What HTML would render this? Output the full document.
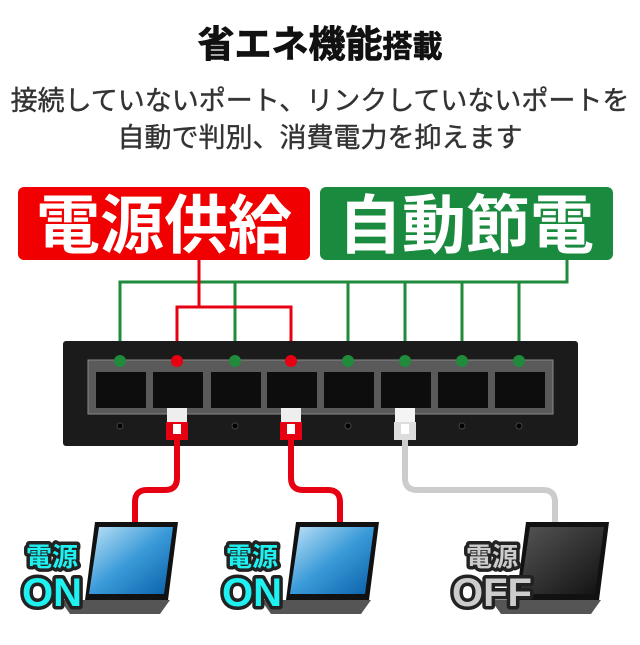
<!DOCTYPE html>
<html><head><meta charset="utf-8"><style>
body{margin:0;background:#fff}
svg text{font-family:"Liberation Sans","Noto Sans CJK JP",sans-serif;font-weight:bold}
</style></head><body>
<svg width="640" height="640" viewBox="0 0 640 640" xmlns="http://www.w3.org/2000/svg">
<defs>
<linearGradient id="scr" x1="0" y1="0" x2="1" y2="1"><stop offset="0" stop-color="#bfe3f7"/><stop offset="0.5" stop-color="#3a9ad8"/><stop offset="1" stop-color="#0a5fa8"/></linearGradient>
<linearGradient id="scr2" x1="0" y1="0" x2="1" y2="1"><stop offset="0" stop-color="#555"/><stop offset="1" stop-color="#111"/></linearGradient>
</defs>
<text x="320" y="57" font-size="37" text-anchor="middle" fill="#111" stroke="#111" stroke-width="0.8">省エネ機能<tspan font-size="30">搭載</tspan></text>
<text x="320" y="110" font-size="27" text-anchor="middle" fill="#333" stroke="#333" stroke-width="0.4" style="font-weight:normal">接続していないポート、リンクしていないポートを</text>
<text x="320" y="147" font-size="27" text-anchor="middle" fill="#333" stroke="#333" stroke-width="0.4" style="font-weight:normal">自動で判別、消費電力を抑えます</text>

<rect x="18" y="187" width="292" height="73" rx="6" fill="#f00000"/>
<text x="164" y="248" font-size="64" text-anchor="middle" fill="#fff">電源供給</text>
<rect x="320" y="187" width="293" height="73" rx="6" fill="#1a8a3e"/>
<text x="466" y="248" font-size="64" text-anchor="middle" fill="#fff">自動節電</text>

<g stroke="#1f8b3b" stroke-width="3" fill="none">
<path d="M567 260V282H120V360"/>
<path d="M235 282V360M348 282V360M405 282V360M462 282V360M519 282V360"/>
</g>
<g stroke="#e60012" stroke-width="3" fill="none">
<path d="M199 260V307M177 361V307H291V361"/>
</g>

<rect x="63" y="341" width="515" height="105" rx="3" fill="#1b1b1b"/>
<rect x="88" y="360" width="465" height="54" fill="#5a5a5a" stroke="#888"/>
<g fill="#0d0d0d">
<rect x="96" y="372" width="50" height="36"/><rect x="153" y="372" width="50" height="36"/>
<rect x="211" y="372" width="50" height="36"/><rect x="267" y="372" width="50" height="36"/>
<rect x="324" y="372" width="50" height="36"/><rect x="381" y="372" width="50" height="36"/>
<rect x="438" y="372" width="50" height="36"/><rect x="495" y="372" width="50" height="36"/>
</g>
<g fill="#000" stroke="#444"><circle cx="120" cy="426" r="3"/><circle cx="235" cy="426" r="3"/><circle cx="348" cy="426" r="3"/><circle cx="462" cy="426" r="3"/><circle cx="519" cy="426" r="3"/></g>

<g fill="#1f8b3b"><circle cx="120" cy="361" r="6"/><circle cx="235" cy="361" r="6"/><circle cx="348" cy="361" r="6"/><circle cx="405" cy="361" r="6"/><circle cx="462" cy="361" r="6"/><circle cx="519" cy="361" r="6"/></g>
<g fill="#e60012"><circle cx="177" cy="361" r="6"/><circle cx="291" cy="361" r="6"/></g>

<g fill="none" stroke-width="6" stroke-linejoin="round">
<path d="M177 440V478Q177 490 165 490H147Q135 490 135 502V525" stroke="#e60012"/>
<path d="M291 440V478Q291 490 303 490H328Q340 490 340 502V525" stroke="#e60012"/>
<path d="M405 440V478Q405 490 417 490H543Q555 490 555 502V530" stroke="#ccc"/>
</g>
<g>
<rect x="167" y="408" width="20" height="14" fill="#eee"/><path d="M166 422h22v18h-22z" fill="#e60012"/><rect x="173" y="424" width="8" height="10" fill="#fff"/>
<rect x="281" y="408" width="20" height="14" fill="#eee"/><path d="M280 422h22v18h-22z" fill="#e60012"/><rect x="287" y="424" width="8" height="10" fill="#fff"/>
<rect x="395" y="408" width="20" height="14" fill="#f4f4f4"/><path d="M394 422h22v18h-22z" fill="#ddd"/><rect x="401" y="424" width="8" height="10" fill="#fff"/>
</g>

<g>
<path d="M95 522L178 522L168 600L85 600Z" fill="#111"/><path d="M99 527L173 527L164 594L89 594Z" fill="url(#scr)"/>
<path d="M60 600L170 600L160 614L70 614Z" fill="#555"/>
<path d="M296 522L379 522L369 600L286 600Z" fill="#111"/><path d="M300 527L374 527L365 594L290 594Z" fill="url(#scr)"/>
<path d="M261 600L371 600L361 614L271 614Z" fill="#555"/>
<path d="M526 522L609 522L599 600L516 600Z" fill="#111"/><path d="M530 527L604 527L595 594L520 594Z" fill="url(#scr2)"/>
<path d="M491 600L601 600L591 614L501 614Z" fill="#555"/>
</g>
<g font-size="26" text-anchor="middle" stroke="#222" stroke-width="7" paint-order="stroke" stroke-linejoin="round">
<text x="52" y="566" fill="#1ff0f0">電源</text>
<text x="52" y="606" font-size="40" fill="#1ff0f0">ON</text>
<text x="252" y="566" fill="#1ff0f0">電源</text>
<text x="252" y="606" font-size="40" fill="#1ff0f0">ON</text>
<text x="492" y="566" fill="#ccc">電源</text>
<text x="492" y="606" font-size="40" fill="#ccc">OFF</text>
</g>
</svg>
</body></html>
